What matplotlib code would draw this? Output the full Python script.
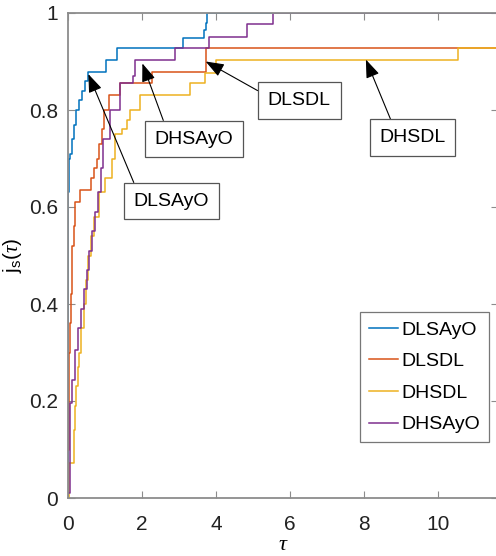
import matplotlib
matplotlib.use("Agg")
import matplotlib.pyplot as plt

plt.rcParams['font.family'] = ['Liberation Sans', 'DejaVu Sans']
plt.rcParams['mathtext.fontset'] = 'custom'
plt.rcParams['mathtext.rm'] = 'Liberation Sans'
plt.rcParams['mathtext.it'] = 'Liberation Serif:italic'

# --- data ---
names = ['DLSAyO', 'DLSDL', 'DHSDL', 'DHSAyO']
colors = ['#0072BD', '#D95319', '#EDB120', '#7E2F8E']

tau_dlsayo = [0, 0, 0.02, 0.05, 0.10, 0.15, 0.22, 0.30, 0.38, 0.45, 0.54, 1.02, 1.32, 3.10, 3.67, 3.72, 3.75]
rho_dlsayo = [0, 0.63, 0.70, 0.71, 0.74, 0.77, 0.80, 0.82, 0.84, 0.86, 0.878, 0.903, 0.928, 0.948, 0.965, 0.98, 1.0]

tau_dlsdl = [0, 0.02, 0.04, 0.06, 0.08, 0.10, 0.12, 0.15, 0.19, 0.32, 0.62, 0.70, 0.78, 0.84, 0.92, 0.97, 1.10, 1.40, 2.26, 3.72]
rho_dlsdl = [0.10, 0.22, 0.30, 0.36, 0.42, 0.47, 0.52, 0.56, 0.61, 0.635, 0.66, 0.68, 0.70, 0.73, 0.76, 0.80, 0.83, 0.856, 0.878, 0.928]

tau_dhsdl = [0, 0.03, 0.16, 0.19, 0.22, 0.26, 0.30, 0.36, 0.42, 0.48, 0.55, 0.62, 0.70, 0.84, 1.00, 1.19, 1.27, 1.45, 1.59, 1.67, 1.94, 3.29, 3.70, 4.00, 10.54]
rho_dhsdl = [0, 0.072, 0.14, 0.19, 0.23, 0.27, 0.30, 0.35, 0.40, 0.45, 0.50, 0.54, 0.58, 0.63, 0.66, 0.70, 0.75, 0.76, 0.78, 0.80, 0.83, 0.855, 0.876, 0.903, 0.928]

tau_dhsayo = [0, 0.05, 0.11, 0.19, 0.27, 0.35, 0.42, 0.50, 0.57, 0.65, 0.73, 0.80, 0.88, 0.94, 1.13, 1.40, 1.75, 1.80, 2.88, 3.80, 4.85, 5.53]
rho_dhsayo = [0.01, 0.196, 0.243, 0.305, 0.35, 0.39, 0.43, 0.47, 0.51, 0.55, 0.59, 0.63, 0.68, 0.74, 0.80, 0.856, 0.87, 0.903, 0.928, 0.95, 0.977, 1.0]

taus = [tau_dlsayo, tau_dlsdl, tau_dhsdl, tau_dhsayo]
rhos = [rho_dlsayo, rho_dlsdl, rho_dhsdl, rho_dhsayo]

# annotations: label, arrow tip, text centre, relpos on box
notes = [
    ('DLSAyO', (0.55, 0.874), (2.79, 0.612), (0.06, 1.0)),
    ('DHSAyO', (2.01, 0.896), (3.40, 0.740), (0.16, 1.0)),
    ('DLSDL', (3.72, 0.900), (6.25, 0.820), (0.07, 0.59)),
    ('DHSDL', (8.05, 0.904), (9.31, 0.743), (0.23, 1.0)),
]

XMAX = 11.62
gray = '#8c8c8c'

fig = plt.figure(figsize=(4.96, 5.56), dpi=100)
ax = fig.add_axes([68 / 496, 58 / 556, 430 / 496, 485 / 556])

for t, r, c, n in zip(taus, rhos, colors, names):
    ax.step(t + [XMAX], r + [r[-1]], where='post', color=c, lw=1.1, label=n)

for label, tip, txt, rel in notes:
    ax.annotate(label, xy=tip, xytext=txt, ha='center', va='center', fontsize=14,
                bbox=dict(boxstyle='square,pad=0.5', fc='white', ec='#555555', lw=0.9),
                arrowprops=dict(arrowstyle='-|>,head_length=0.8,head_width=0.3',
                                color='black', lw=0.8, relpos=rel,
                                shrinkA=0, shrinkB=0))

ax.set_xlim(0, XMAX)
ax.set_ylim(0, 1)
ax.set_xticks([0, 2, 4, 6, 8, 10])
ax.set_yticks([0, 0.2, 0.4, 0.6, 0.8, 1])
ax.set_yticklabels(['0', '0.2', '0.4', '0.6', '0.8', '1'])
ax.tick_params(axis='both', direction='in', top=True, right=True, length=5,
               color=gray, labelcolor='#222222', labelsize=15)
ax.tick_params(axis='x', pad=12)
ax.tick_params(axis='y', pad=7)
for s in ax.spines.values():
    s.set_color(gray)
    s.set_linewidth(1.3)

ax.set_xlabel(r'$\tau$', fontsize=16, labelpad=0)
ax.set_ylabel(r'j$_\mathrm{s}$($\tau$)', fontsize=15, labelpad=4)

leg = ax.legend(loc='lower right', bbox_to_anchor=(0.978, 0.115), borderaxespad=0,
                fontsize=14, fancybox=False, framealpha=1, edgecolor='#777777',
                handlelength=1.5, handletextpad=0.15, borderpad=0.45, labelspacing=0.72)
leg.get_frame().set_linewidth(0.9)

fig.savefig('out.png', dpi=100)
